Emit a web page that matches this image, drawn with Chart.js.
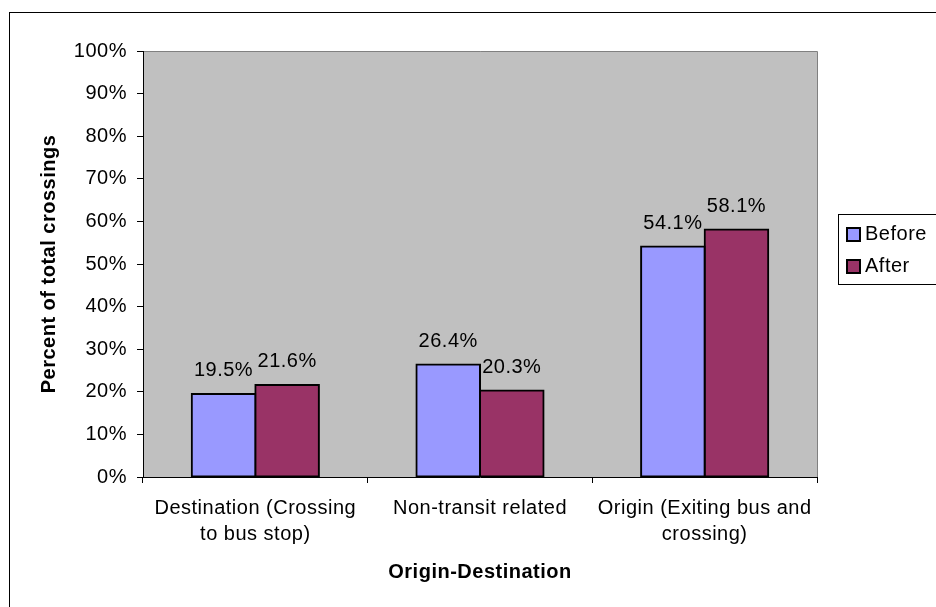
<!DOCTYPE html>
<html>
<head>
<meta charset="utf-8">
<script src="https://cdn.jsdelivr.net/npm/chart.js@4.4.1/dist/chart.umd.min.js"></script>
<style>
  html, body { margin: 0; padding: 0; background: #ffffff; }
  canvas { display: block; }
</style>
</head>
<body>
<canvas id="chart" width="936" height="607"></canvas>
<script>
// Share of pedestrian crossings by origin-destination type, before and after
const categories = [
  ['Destination (Crossing', 'to bus stop)'],
  'Non-transit related',
  ['Origin (Exiting bus and', 'crossing)']
];
const seriesNames = ['Before', 'After'];
const beforeValues = [19.5, 26.4, 54.1];
const afterValues = [21.6, 20.3, 58.1];
const yTickValues = [0, 10, 20, 30, 40, 50, 60, 70, 80, 90, 100];
const yAxisTitle = 'Percent of total crossings';
const xAxisTitle = 'Origin-Destination';

const FONT = "'Liberation Sans', Arial, Helvetica, sans-serif";
const FONT_SIZE = 20;
const SPACING = '0.5px';
const COLORS = ['#9999FF', '#993366'];

// Text in this chart is set slightly wide; keep the spacing on the context
const spacingPlugin = {
  id: 'spacing',
  beforeUpdate(chart) { chart.ctx.letterSpacing = SPACING; },
  beforeDraw(chart) { chart.ctx.letterSpacing = SPACING; }
};

// Page frame and grey plot background
const framePlugin = {
  id: 'frame',
  beforeDraw(chart) {
    const { ctx, chartArea: a } = chart;
    ctx.save();
    ctx.fillStyle = '#ffffff';
    ctx.fillRect(0, 0, chart.width, chart.height);
    ctx.strokeStyle = '#000000';
    ctx.lineWidth = 1;
    ctx.strokeRect(9.5, 12.5, 2000, 2000);
    ctx.fillStyle = '#C0C0C0';
    ctx.fillRect(a.left, a.top, a.right - a.left, a.bottom - a.top);
    ctx.strokeStyle = '#808080';
    ctx.beginPath();
    ctx.moveTo(a.left, Math.round(a.top) + 0.5);
    ctx.lineTo(Math.round(a.right) + 0.5, Math.round(a.top) + 0.5);
    ctx.lineTo(Math.round(a.right) + 0.5, a.bottom);
    ctx.stroke();
    ctx.restore();
  }
};

// Value labels above each bar
const valueLabelPlugin = {
  id: 'valueLabels',
  afterDatasetsDraw(chart) {
    const { ctx } = chart;
    ctx.save();
    ctx.letterSpacing = SPACING;
    ctx.font = FONT_SIZE + 'px ' + FONT;
    ctx.fillStyle = '#000000';
    ctx.textAlign = 'center';
    ctx.textBaseline = 'middle';
    chart.data.datasets.forEach((ds, i) => {
      chart.getDatasetMeta(i).data.forEach((bar, j) => {
        ctx.fillText(ds.data[j].toFixed(1) + '%', bar.x, bar.y - 23);
      });
    });
    ctx.restore();
  }
};

// Boxed legend at the right of the plot
const legendBoxPlugin = {
  id: 'legendBox',
  afterDraw(chart) {
    const { ctx } = chart;
    const boxLeft = 838.5, boxTop = 214.5, boxHeight = 70;
    ctx.save();
    ctx.letterSpacing = SPACING;
    ctx.strokeStyle = '#000000';
    ctx.lineWidth = 1;
    ctx.strokeRect(boxLeft, boxTop, 300, boxHeight);
    ctx.font = FONT_SIZE + 'px ' + FONT;
    ctx.textAlign = 'left';
    ctx.textBaseline = 'middle';
    chart.data.datasets.forEach((ds, i) => {
      const cy = 234.5 + i * 32;
      ctx.fillStyle = ds.backgroundColor;
      ctx.fillRect(847, cy - 6.5, 13, 13);
      ctx.lineWidth = 2;
      ctx.strokeStyle = '#000000';
      ctx.strokeRect(847, cy - 6.5, 13, 13);
      ctx.fillStyle = '#000000';
      ctx.fillText(ds.label, 865, cy);
    });
    ctx.restore();
  }
};

const datasets = [beforeValues, afterValues].map((values, i) => ({
  label: seriesNames[i],
  data: values,
  backgroundColor: COLORS[i],
  borderColor: '#000000',
  borderWidth: 2,
  borderSkipped: false,
  inflateAmount: 1,
  categoryPercentage: 0.566,
  barPercentage: 1.0
}));

new Chart(document.getElementById('chart'), {
  type: 'bar',
  data: { labels: categories, datasets },
  plugins: [spacingPlugin, framePlugin, valueLabelPlugin, legendBoxPlugin],
  options: {
    responsive: false,
    devicePixelRatio: 1,
    animation: false,
    layout: { padding: { left: 0, top: 51, right: 119, bottom: 0 } },
    plugins: {
      legend: { display: false },
      tooltip: { enabled: false }
    },
    scales: {
      x: {
        type: 'category',
        offset: true,
        grid: { offset: true, drawOnChartArea: false, drawTicks: true, tickLength: 6, color: '#000000', lineWidth: 1 },
        border: { display: true, color: '#000000', width: 1 },
        ticks: {
          font: { family: FONT, size: FONT_SIZE, lineHeight: 1.33 },
          color: '#000000',
          padding: 12,
          maxRotation: 0,
          minRotation: 0,
          autoSkip: false
        },
        title: {
          display: true,
          text: xAxisTitle,
          color: '#000000',
          font: { family: FONT, size: FONT_SIZE, weight: 'bold', lineHeight: 1.2 },
          padding: { top: 0, bottom: 23 }
        },
        afterFit(scale) { scale.height = 130; }
      },
      y: {
        type: 'linear',
        min: yTickValues[0],
        max: yTickValues[yTickValues.length - 1],
        afterBuildTicks(scale) { scale.ticks = yTickValues.map(v => ({ value: v })); },
        grid: { drawOnChartArea: false, drawTicks: true, tickLength: 6, color: '#000000', lineWidth: 1 },
        border: { display: true, color: '#000000', width: 1 },
        ticks: {
          font: { family: FONT, size: FONT_SIZE },
          color: '#000000',
          padding: 10,
          callback: v => v + '%'
        },
        title: {
          display: true,
          text: yAxisTitle,
          color: '#000000',
          font: { family: FONT, size: FONT_SIZE, weight: 'bold', lineHeight: 1.2 },
          padding: { top: 37, bottom: 0 }
        },
        afterFit(scale) { scale.width = 143; }
      }
    }
  }
});
</script>
</body>
</html>
